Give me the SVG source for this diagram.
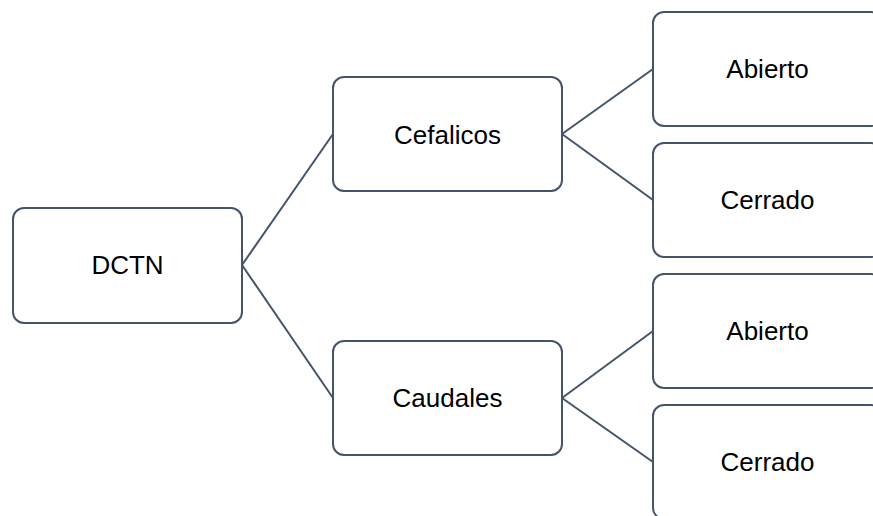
<svg xmlns="http://www.w3.org/2000/svg" width="873" height="516" viewBox="0 0 873 516">
<style>
.box{fill:#fff;stroke:#44546A;stroke-width:2}
.lbl{font-family:"Liberation Sans",Arial,sans-serif;font-size:26px;fill:#000;text-anchor:middle;dominant-baseline:central}
.con{fill:none;stroke:#44546A;stroke-width:2}
</style>
<rect width="873" height="516" fill="#fff"/>
<g id="connectors">
<path class="con" d="M242,265 L333,134"/>
<path class="con" d="M242,265 L333,398"/>
<path class="con" d="M562,134 L653,69"/>
<path class="con" d="M562,134 L653,200"/>
<path class="con" d="M562,398 L653,331"/>
<path class="con" d="M562,398 L653,462"/>
</g>
<g id="dctn"><rect class="box" x="13" y="208" width="229" height="115" rx="11"/><text class="lbl" x="127.5" y="265">DCTN</text></g>
<g id="cefalicos"><rect class="box" x="333" y="77" width="229" height="114" rx="11"/><text class="lbl" x="447.5" y="134.5">Cefalicos</text></g>
<g id="caudales"><rect class="box" x="333" y="341" width="229" height="114" rx="11"/><text class="lbl" x="447.5" y="398">Caudales</text></g>
<g id="abierto1"><rect class="box" x="653" y="12" width="229" height="114" rx="11"/><text class="lbl" x="767.5" y="69">Abierto</text></g>
<g id="cerrado1"><rect class="box" x="653" y="143" width="229" height="114" rx="11"/><text class="lbl" x="767.5" y="200">Cerrado</text></g>
<g id="abierto2"><rect class="box" x="653" y="274" width="229" height="114" rx="11"/><text class="lbl" x="767.5" y="331">Abierto</text></g>
<g id="cerrado2"><rect class="box" x="653" y="405" width="229" height="114" rx="11"/><text class="lbl" x="767.5" y="462">Cerrado</text></g>
</svg>
